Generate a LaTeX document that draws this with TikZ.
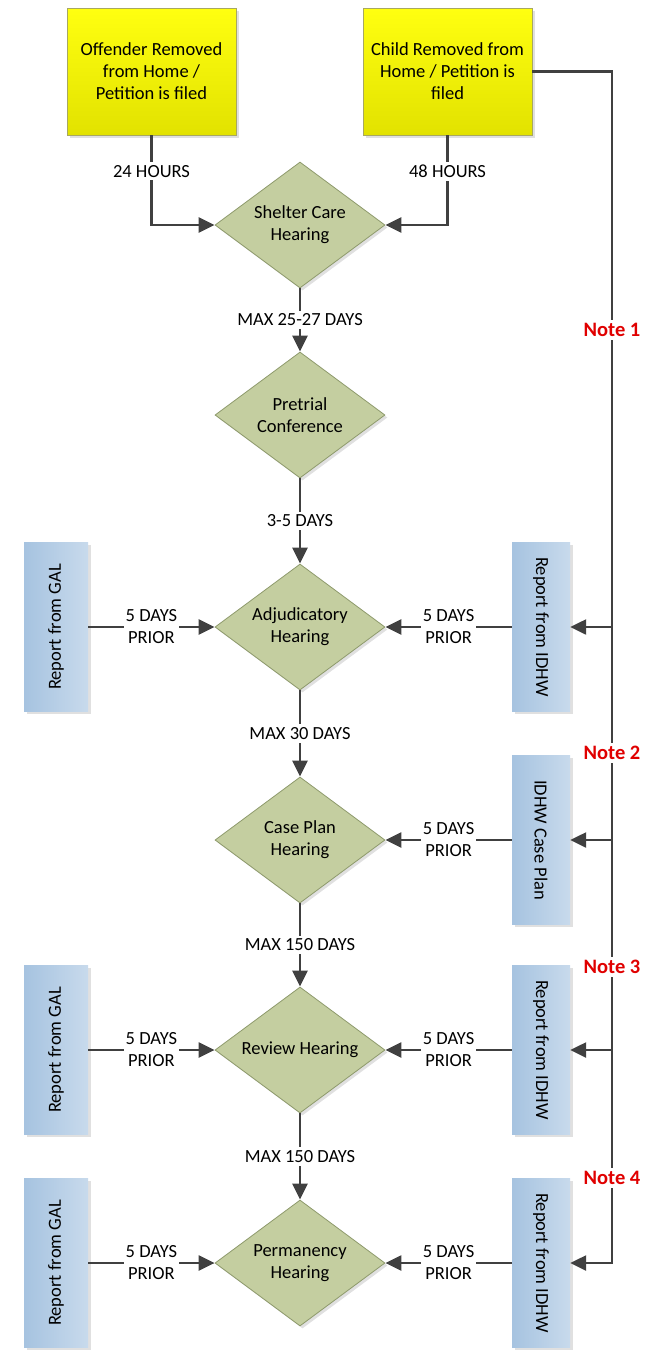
\documentclass[tikz,border=0pt]{standalone}
\usepackage{fontspec}
\setmainfont{Carlito}
\usepackage{graphicx}
\usepackage{tikz}
\usetikzlibrary{arrows.meta, shapes.geometric, shadows}
\definecolor{linegray}{HTML}{404040}
\definecolor{hearingfill}{HTML}{C4CEA0}
\definecolor{hearingline}{HTML}{8E9A6C}
\definecolor{startA}{HTML}{FFFF10}
\definecolor{startB}{HTML}{E2E200}
\definecolor{startline}{HTML}{A8A860}
\definecolor{reportA}{HTML}{A6C3E0}
\definecolor{reportB}{HTML}{C8DAEC}
\definecolor{notered}{HTML}{E00000}

\begin{document}
\begin{tikzpicture}[x=1pt, y=-1pt,
    every node/.style={font=\fontsize{18.5}{22}\selectfont, align=center},
    soft/.style={drop shadow={shadow xshift=2.5pt, shadow yshift=-2.5pt, opacity=0.12, fill=black}},
    start/.style={rectangle, draw=startline, line width=0.8pt, top color=startA, bottom color=startB, minimum width=169pt, minimum height=127pt, inner sep=0pt, soft},
    hearing/.style={diamond, draw=hearingline, line width=0.8pt, fill=hearingfill, aspect=1.35, minimum width=170pt, minimum height=126pt, inner sep=0pt, soft},
    report/.style={rectangle, left color=reportA, right color=reportB, minimum height=169pt, inner sep=0pt, soft},
    gal/.style={report, minimum width=64pt},
    idhw/.style={report, minimum width=58pt},
    flow/.style={draw=linegray, line width=2.4pt, -{Triangle[length=16pt, width=15pt]}},
    gap/.style={fill=white, inner xsep=2pt, inner ysep=3pt},
    note/.style={fill=white, text=notered, font=\fontsize{20.5}{24}\selectfont\bfseries, inner xsep=1pt, inner ysep=3pt}]
    \useasboundingbox (0, 0) rectangle (645, 1353);

    % starting events
    \node[start] at (151.5, 71.5) (off) {Offender Removed\\from Home /\\Petition is filed};
    \node[start] at (447.5, 71.5) (child) {Child Removed from\\Home / Petition is\\filed};

    % hearings
    \node[hearing] at (300, 225)  (shelter)  {Shelter Care\\Hearing};
    \node[hearing] at (300, 415)  (pretrial) {Pretrial\\Conference};
    \node[hearing] at (300, 627)  (adjud)    {Adjudicatory\\Hearing};
    \node[hearing] at (300, 840)  (caseplan) {Case Plan\\Hearing};
    \node[hearing] at (300, 1050) (review)   {Review Hearing};
    \node[hearing] at (300, 1263) (perm)     {Permanency\\Hearing};

    % reports
    \node[gal] at (56, 627)  (galA) {\rotatebox{90}{Report from GAL}};
    \node[gal] at (56, 1050) (galR) {\rotatebox{90}{Report from GAL}};
    \node[gal] at (56, 1263) (galP) {\rotatebox{90}{Report from GAL}};
    \node[idhw] at (541, 627)  (idhwA) {\rotatebox{-90}{Report from IDHW}};
    \node[idhw] at (541, 840)  (planC) {\rotatebox{-90}{IDHW Case Plan}};
    \node[idhw] at (541, 1050) (idhwR) {\rotatebox{-90}{Report from IDHW}};
    \node[idhw] at (541, 1263) (idhwP) {\rotatebox{-90}{Report from IDHW}};

    \draw[flow] (off.south) |- node[gap, pos=0.2] {24 HOURS} (shelter.west);
    \draw[flow] (child.south) |- node[gap, pos=0.2] {48 HOURS} (shelter.east);

    \draw[flow] (shelter) -- node[gap] {MAX 25-27 DAYS} (pretrial);
    \draw[flow] (pretrial) -- node[gap] {3-5 DAYS} (adjud);
    \draw[flow] (adjud) -- node[gap] {MAX 30 DAYS} (caseplan);
    \draw[flow] (caseplan) -- node[gap] {MAX 150 DAYS} (review);
    \draw[flow] (review) -- node[gap] {MAX 150 DAYS} (perm);

    \draw[flow] (galA) -- node[gap] {5 DAYS\\PRIOR} (adjud);
    \draw[flow] (galR) -- node[gap] {5 DAYS\\PRIOR} (review);
    \draw[flow] (galP) -- node[gap] {5 DAYS\\PRIOR} (perm);
    \draw[flow] (idhwA) -- node[gap] {5 DAYS\\PRIOR} (adjud);
    \draw[flow] (planC) -- node[gap] {5 DAYS\\PRIOR} (caseplan);
    \draw[flow] (idhwR) -- node[gap] {5 DAYS\\PRIOR} (review);
    \draw[flow] (idhwP) -- node[gap] {5 DAYS\\PRIOR} (perm);

    % IDHW line on the right
    \coordinate (bus) at (612, 0);
    \draw[flow] (child.east) -- (child.east -| bus) |- (idhwP.east);
    \draw[flow] (bus |- idhwA) -- (idhwA.east);
    \draw[flow] (bus |- planC) -- (planC.east);
    \draw[flow] (bus |- idhwR) -- (idhwR.east);

    \node[note] at (612, 330)  (note1) {Note 1};
    \node[note] at (612, 753)  (note2) {Note 2};
    \node[note] at (612, 967)  (note3) {Note 3};
    \node[note] at (612, 1178) (note4) {Note 4};
\end{tikzpicture}
\end{document}
